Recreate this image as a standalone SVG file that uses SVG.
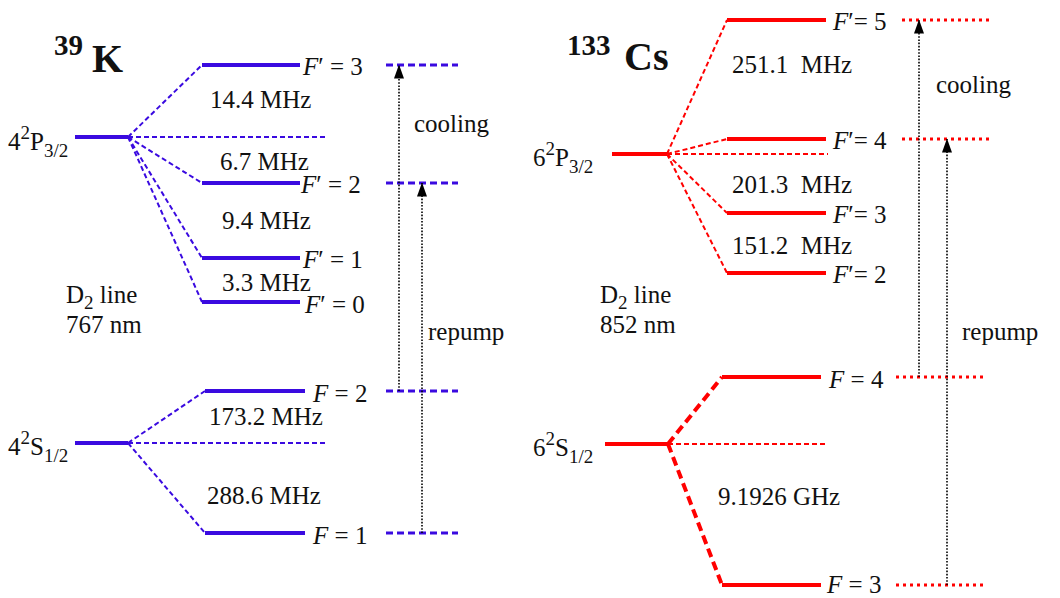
<svg xmlns="http://www.w3.org/2000/svg" width="1060" height="598" viewBox="0 0 1060 598" font-family="'Liberation Serif','DejaVu Serif',serif">
<defs>
<style>
text{font-family:'Liberation Serif','DejaVu Serif',serif;font-size:25px;fill:#111}
.it{font-style:italic}
.sm{font-size:19px}
.title{font-weight:bold;font-size:40px}
.tsup{font-weight:bold;font-size:29px}
.lvb{stroke:#3a0ae0;stroke-width:4;fill:none}
.lvr{stroke:#f00;stroke-width:4;fill:none}
.cb{stroke:#3a0ae0;stroke-width:2;stroke-dasharray:5 3;fill:none}
.cbr{stroke:#3a0ae0;stroke-width:3;stroke-dasharray:7 4;fill:none}
.cr{stroke:#f00;stroke-width:2;stroke-dasharray:5 3;fill:none}
.crt{stroke:#f00;stroke-width:4;stroke-dasharray:9 5;fill:none}
.crr{stroke:#f00;stroke-width:3;stroke-dasharray:3 4;fill:none}
.tr{stroke:#000;stroke-width:1.6;stroke-dasharray:1.6 1.6;fill:none;marker-end:url(#ah)}
</style>
<marker id="ah" viewBox="0 0 14 10" refX="13.5" refY="5" markerWidth="14" markerHeight="10" markerUnits="userSpaceOnUse" orient="auto">
<path d="M0,0 L14,5 L0,10 Z" fill="#000"/>
</marker>
</defs>
<!-- K panel -->
<g id="title-K"><text x="54" y="55" class="tsup">39</text><text x="92" y="72" class="title">K</text></g>
<g id="K-P32"><line x1="75" y1="137" x2="128" y2="137" class="lvb"/><text x="8" y="150">4<tspan class="sm" dy="-11">2</tspan><tspan dy="11">P</tspan><tspan class="sm" dy="7">3/2</tspan></text></g>
<g id="K-S12"><line x1="75" y1="443" x2="128" y2="443" class="lvb"/><text x="8" y="455">4<tspan class="sm" dy="-11">2</tspan><tspan dy="11">S</tspan><tspan class="sm" dy="7">1/2</tspan></text></g>
<g id="K-F3p"><line x1="202" y1="65" x2="300" y2="65" class="lvb"/><text x="303" y="75"><tspan class="it">F</tspan>′ = 3</text></g>
<g id="K-F2p"><line x1="202" y1="183" x2="300" y2="183" class="lvb"/><text x="301" y="193"><tspan class="it">F</tspan>′ = 2</text></g>
<g id="K-F1p"><line x1="202" y1="258" x2="300" y2="258" class="lvb"/><text x="303" y="268"><tspan class="it">F</tspan>′ = 1</text></g>
<g id="K-F0p"><line x1="202" y1="302" x2="300" y2="302" class="lvb"/><text x="305" y="313"><tspan class="it">F</tspan>′ = 0</text></g>
<g id="K-F2"><line x1="205" y1="391" x2="305" y2="391" class="lvb"/><text x="313" y="402"><tspan class="it">F</tspan> = 2</text></g>
<g id="K-F1"><line x1="205" y1="533" x2="305" y2="533" class="lvb"/><text x="313" y="544"><tspan class="it">F</tspan> = 1</text></g>
<g id="K-labels">
<text x="210" y="108">14.4 MHz</text>
<text x="220" y="170">6.7 MHz</text>
<text x="222" y="229">9.4 MHz</text>
<text x="222" y="291">3.3 MHz</text>
<text x="209" y="425">173.2 MHz</text>
<text x="207" y="504">288.6 MHz</text>
<text x="66" y="303">D<tspan class="sm" dy="6">2</tspan><tspan dy="-6"> line</tspan></text>
<text x="66" y="333">767 nm</text>
<text x="414" y="132">cooling</text>
<text x="428" y="340">repump</text>
</g>
<!-- Cs panel -->
<g id="title-Cs"><text x="567" y="55" class="tsup">133</text><text x="624" y="70" class="title">Cs</text></g>
<g id="Cs-P32"><line x1="612" y1="154" x2="667" y2="154" class="lvr"/><text x="533" y="166">6<tspan class="sm" dy="-11">2</tspan><tspan dy="11">P</tspan><tspan class="sm" dy="7">3/2</tspan></text></g>
<g id="Cs-S12"><line x1="605" y1="444" x2="668" y2="444" class="lvr"/><text x="533" y="456">6<tspan class="sm" dy="-11">2</tspan><tspan dy="11">S</tspan><tspan class="sm" dy="7">1/2</tspan></text></g>
<g id="Cs-F5p"><line x1="727" y1="20" x2="826" y2="20" class="lvr"/><text x="833" y="30"><tspan class="it">F</tspan>′= 5</text></g>
<g id="Cs-F4p"><line x1="727" y1="139" x2="826" y2="139" class="lvr"/><text x="833" y="149"><tspan class="it">F</tspan>′= 4</text></g>
<g id="Cs-F3p"><line x1="727" y1="213" x2="826" y2="213" class="lvr"/><text x="833" y="223"><tspan class="it">F</tspan>′= 3</text></g>
<g id="Cs-F2p"><line x1="727" y1="273" x2="826" y2="273" class="lvr"/><text x="833" y="283"><tspan class="it">F</tspan>′= 2</text></g>
<g id="Cs-F4"><line x1="722" y1="377" x2="821" y2="377" class="lvr"/><text x="829" y="388"><tspan class="it">F</tspan> = 4</text></g>
<g id="Cs-F3"><line x1="722" y1="585" x2="821" y2="585" class="lvr"/><text x="827" y="593"><tspan class="it">F</tspan> = 3</text></g>
<g id="Cs-labels">
<text x="732" y="73" xml:space="preserve">251.1  MHz</text>
<text x="732" y="193" xml:space="preserve">201.3  MHz</text>
<text x="732" y="254" xml:space="preserve">151.2  MHz</text>
<text x="718" y="505">9.1926 GHz</text>
<text x="600" y="303">D<tspan class="sm" dy="6">2</tspan><tspan dy="-6"> line</tspan></text>
<text x="600" y="333">852 nm</text>
<text x="936" y="93">cooling</text>
<text x="962" y="340">repump</text>
</g>
<!-- connectors -->
<g id="connectors">
<path class="cb" d="M128,137 L202,65 M128,137 L327,137 M128,137 L202,183 M128,137 L202,258 M128,137 L202,302"/>
<path class="cb" d="M128,443 L205,391 M128,443 L325,443 M128,443 L205,533"/>
<path class="cbr" d="M386,65 H458 M386,183 H458 M386,391 H458 M386,533 H458"/>
<path class="cr" d="M667,154 L727,20 M667,154 L727,139 M667,154 L828,154 M667,154 L727,213 M667,154 L727,273"/>
<path class="cr" d="M668,444 L828,444"/>
<path class="crt" d="M668,444 L722,377 M668,444 L722,585"/>
<path class="crr" d="M902,20 H990 M902,139 H990 M896,377 H985 M896,585 H985"/>
<line class="tr" x1="399" y1="391" x2="399" y2="65"/>
<line class="tr" x1="422" y1="533" x2="422" y2="183"/>
<line class="tr" x1="919" y1="377" x2="919" y2="20"/>
<line class="tr" x1="947" y1="585" x2="947" y2="139"/>
</g>
</svg>
